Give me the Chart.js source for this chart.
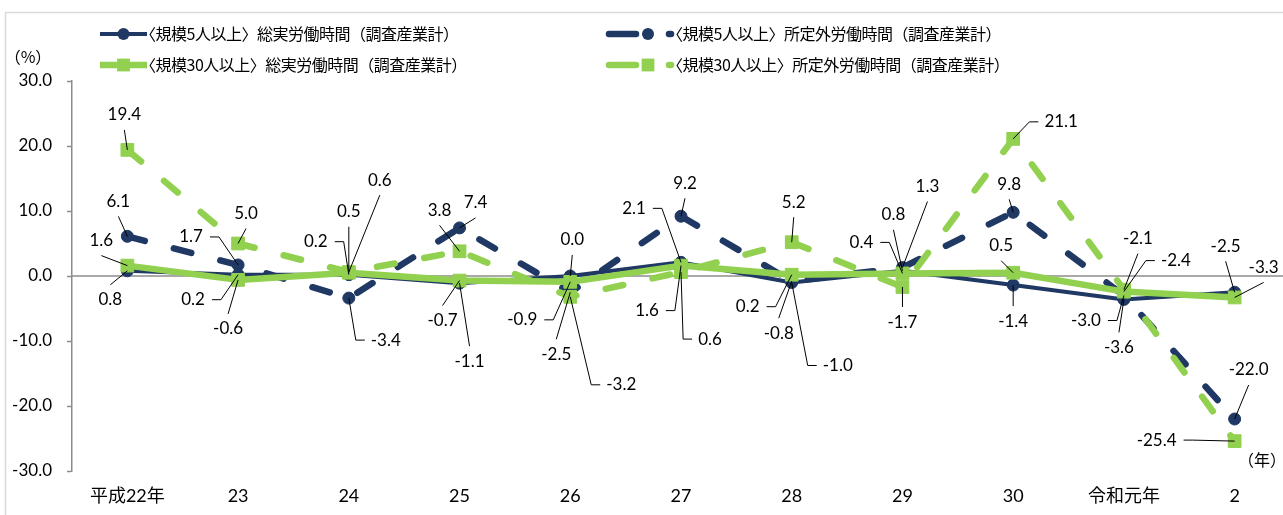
<!DOCTYPE html>
<html><head><meta charset="utf-8">
<script src="https://cdn.jsdelivr.net/npm/chart.js@4.4.1/dist/chart.umd.min.js"></script>
<style>
html,body{margin:0;padding:0;background:#fff;overflow:hidden;width:1283px;height:515px;}
#wrap{position:absolute;left:0;top:0;width:1300px;height:515px;}
canvas{display:block;}
</style></head><body>
<div id="wrap"><canvas id="c" width="1300" height="515"></canvas></div>
<script>
// ---- data ----
const categories = ['平成22年','23','24','25','26','27','28','29','30','令和元年','2'];
const yTickValues = [-30,-20,-10,0,10,20,30];
const seriesNames = [
  '〈規模5人以上〉総実労働時間（調査産業計）',
  '〈規模5人以上〉所定外労働時間（調査産業計）',
  '〈規模30人以上〉総実労働時間（調査産業計）',
  '〈規模30人以上〉所定外労働時間（調査産業計）'
];
const navySolid  = [0.8, 0.2, 0.2, -1.1, 0.0, 2.1, -1.0, 0.8, -1.4, -3.6, -2.5];
const navyDashed = [6.1, 1.7, -3.4, 7.4, -2.5, 9.2, -0.8, 1.3, 9.8, -3.0, -22.0];
const greenSolid = [1.6, -0.6, 0.5, -0.7, -0.9, 1.6, 0.2, 0.4, 0.5, -2.4, -3.3];
const greenDashed= [19.4, 5.0, 0.6, 3.8, -3.2, 0.6, 5.2, -1.7, 21.1, -2.1, -25.4];

// ---- label placement (pixel offsets from the point, leader anchor side) ----
const navySolidLabels = [[-17,29,'t'],[-45,25,'r'],[-33,-33,'r'],[10,78,'t'],[2,-36,'b'],[-47,-54,'r'],[46,83,'l'],[-9,-56,'b'],[0,36,'t'],[-5,48,'t'],[-9,-46,'b']];
const navyDashedLabels = [[-9,-35,'b'],[-47,-28,'r'],[37,42,'l'],[16,-25,'b'],[-14,62,'t'],[4,-33,'b'],[-13,52,'t'],[25,-81,'b'],[-4,-28,'b'],[-38,25,'r'],[14,-49,'b']];
const greenSolidLabels = [[-26,-25,'b'],[-10,49,'t'],[0,-61,'b'],[-17,40,'t'],[-48,38,'r'],[-34,45,'r'],[-44,32,'r'],[-41,-31,'r'],[-12,-27,'b'],[52,-31,'l'],[29,-30,'b']];
const greenDashedLabels = [[-3,-35,'b'],[8,-30,'b'],[31,-92,'b'],[-20,-41,'b'],[51,88,'l'],[29,67,'l'],[2,-40,'b'],[0,35,'t'],[48,-17,'l'],[14,-51,'b'],[-78,-1,'r']];

const NAVY = '#1F3864';
const GREEN = '#92D050';
const NUMFONT = '17px Lato, "Noto Sans CJK JP", sans-serif';
const JPFONT = '16px "Noto Sans CJK JP", sans-serif';

const allValues = [navySolid, navyDashed, greenSolid, greenDashed];
const allLabels = [navySolidLabels, navyDashedLabels, greenSolidLabels, greenDashedLabels];

function makeDs(label, data, color, dashed, style, radius, width, order){
  return {
    label, data, order,
    borderColor: color, backgroundColor: color,
    borderWidth: width,
    borderDash: dashed ? [18,30] : [],
    borderCapStyle: dashed ? 'round' : 'butt',
    borderJoinStyle: 'round',
    tension: 0,
    pointStyle: style, pointRadius: radius, pointHoverRadius: radius,
    pointBackgroundColor: color, pointBorderColor: color, pointBorderWidth: 1
  };
}

const custom = {
  id: 'custom',
  beforeDraw(chart){
    const ctx = chart.ctx;
    ctx.save();
    ctx.strokeStyle = '#d9d9d9';
    ctx.lineWidth = 1.5;
    ctx.strokeRect(5.5, 12.5, 1400, 600);
    ctx.restore();
  },
  beforeDatasetsDraw(chart){
    const ctx = chart.ctx, a = chart.chartArea;
    const y0 = chart.scales.y.getPixelForValue(0);
    ctx.save();
    ctx.strokeStyle = '#8c8c8c';
    ctx.lineWidth = 1.5;
    ctx.beginPath(); ctx.moveTo(a.left, y0); ctx.lineTo(a.right, y0); ctx.stroke();
    ctx.restore();
  },
  afterDatasetsDraw(chart){
    const ctx = chart.ctx;
    ctx.save();
    ctx.font = NUMFONT;
    ctx.textAlign = 'center';
    ctx.textBaseline = 'middle';
    ctx.strokeStyle = '#000';
    ctx.fillStyle = '#000';
    ctx.lineWidth = 1;
    allValues.forEach((vals, d) => {
      const meta = chart.getDatasetMeta(d);
      vals.forEach((v, i) => {
        const el = meta.data[i];
        const px = el.x, py = el.y;
        const [dx, dy, an] = allLabels[d][i];
        const lx = px + dx, ly = py + dy;
        const txt = v.toFixed(1);
        const w = ctx.measureText(txt).width;
        ctx.beginPath();
        if (an === 'b') { ctx.moveTo(lx, ly + 15); ctx.lineTo(px, py); }
        else if (an === 't') { ctx.moveTo(lx, ly - 15); ctx.lineTo(px, py); }
        else if (an === 'r') { const x0 = lx + w/2 + 7; ctx.moveTo(x0, ly); ctx.lineTo(x0 + 9, ly); ctx.lineTo(px, py); }
        else if (an === 'l') { const x0 = lx - w/2 - 6; ctx.moveTo(x0, ly); ctx.lineTo(x0 - 9, ly); ctx.lineTo(px, py); }
        ctx.stroke();
        ctx.fillText(txt, lx, ly);
      });
    });
    ctx.restore();
  },
  afterDraw(chart){
    const ctx = chart.ctx;
    ctx.save();
    const dsets = chart.data.datasets;
    const rows = [34, 65];
    // legend entries: index -> [col x start, row]
    const entries = [[0,0],[1,0],[2,1],[3,1]];
    entries.forEach(([d, r]) => {
      const ds = dsets[d];
      const y = rows[r];
      const dashed = ds.borderDash.length > 0;
      ctx.strokeStyle = ds.borderColor;
      ctx.fillStyle = ds.borderColor;
      ctx.lineWidth = ds.borderWidth;
      let mx, tx;
      if (!dashed) {
        ctx.lineCap = 'butt';
        ctx.beginPath(); ctx.moveTo(100, y); ctx.lineTo(147, y); ctx.stroke();
        mx = 123.5; tx = 140;
      } else {
        ctx.lineCap = 'round';
        ctx.beginPath(); ctx.moveTo(609, y); ctx.lineTo(636, y); ctx.stroke();
        ctx.beginPath(); ctx.moveTo(669, y); ctx.lineTo(671, y); ctx.stroke();
        mx = 648; tx = 667;
      }
      ctx.beginPath();
      if (ds.pointStyle === 'circle') { ctx.arc(mx, y, 6, 0, Math.PI*2); ctx.fill(); }
      else { const s = 6.4; ctx.fillRect(mx - s, y - s, 2*s, 2*s); }
      ctx.fillStyle = '#000';
      ctx.font = JPFONT;
      ctx.letterSpacing = '-0.5px';
      ctx.textAlign = 'left';
      ctx.textBaseline = 'middle';
      ctx.fillText(ds.label, tx, y);
      ctx.letterSpacing = '0px';
    });
    ctx.fillStyle = '#000';
    ctx.font = JPFONT;
    ctx.textAlign = 'center';
    ctx.textBaseline = 'middle';
    ctx.fillText('（%）', 28, 57);
    ctx.fillText('（年）', 1262, 460);
    ctx.restore();
  }
};

new Chart(document.getElementById('c'), {
  type: 'line',
  data: {
    labels: categories,
    datasets: [
      makeDs(seriesNames[0], navySolid, NAVY, false, 'circle', 6, 4, 4),
      makeDs(seriesNames[1], navyDashed, NAVY, true, 'circle', 6, 6.5, 3),
      makeDs(seriesNames[2], greenSolid, GREEN, false, 'rect', 9, 6.5, 2),
      makeDs(seriesNames[3], greenDashed, GREEN, true, 'rect', 9, 6.5, 1)
    ]
  },
  options: {
    responsive: false,
    devicePixelRatio: 1,
    animation: false,
    events: [],
    layout: { padding: { left: 0, right: 9, top: 81, bottom: 0 } },
    plugins: { legend: { display: false }, tooltip: { enabled: false } },
    scales: {
      x: {
        type: 'category',
        offset: true,
        grid: { display: false, drawTicks: false },
        border: { display: false },
        ticks: { color: '#000', font: { family: 'Lato, "Noto Sans CJK JP", sans-serif', size: 18 }, padding: 14, maxRotation: 0, autoSkip: false },
        afterFit(s){ s.height = 44; s.paddingLeft = 0; s.paddingRight = 0; }
      },
      y: {
        min: -30, max: 30,
        afterBuildTicks(s){ s.ticks = yTickValues.map(v => ({ value: v })); },
        ticks: { color: '#000', font: { family: 'Lato, sans-serif', size: 17 }, padding: 15, callback: v => Number(v).toFixed(1) },
        grid: { drawOnChartArea: false, drawTicks: true, tickLength: 5, tickColor: '#8c8c8c', tickWidth: 1.5 },
        border: { display: true, color: '#8c8c8c', width: 1.5 },
        afterFit(s){ s.width = 72; s.paddingTop = 0; s.paddingBottom = 0; }
      }
    }
  },
  plugins: [custom]
});
</script>
</body></html>
